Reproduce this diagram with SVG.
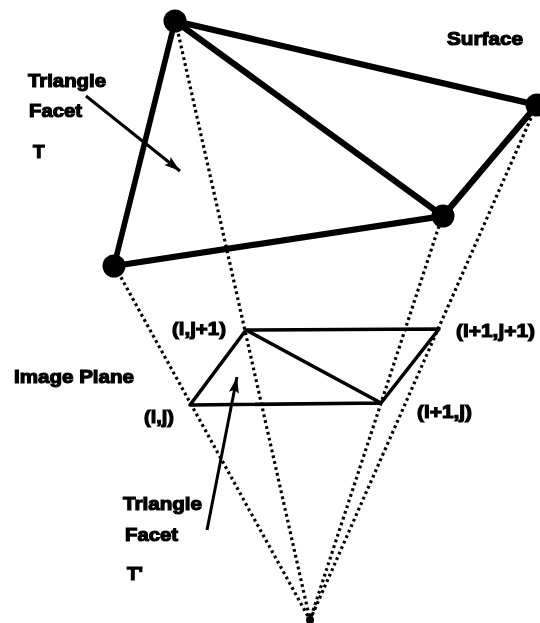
<svg xmlns="http://www.w3.org/2000/svg" width="540" height="623" viewBox="0 0 540 623">
<style>
.thick{stroke:#000;stroke-width:6.2;fill:none;stroke-linecap:round}
.left{stroke-width:5.6}
.mid{stroke:#000;stroke-width:3.6;fill:none;stroke-linecap:round;stroke-linejoin:round}
.dot{stroke:#000;stroke-width:3.2;fill:none;stroke-dasharray:2.8 3.2}
.arrow{stroke:#000;stroke-width:3;fill:none}
.v{fill:#000}
text{font-family:"Liberation Sans",Arial,sans-serif;font-weight:bold;font-size:19px;fill:#000;stroke:#000;stroke-width:1.2}
</style>
<defs>
<marker id="a" markerUnits="userSpaceOnUse" markerWidth="18" markerHeight="14" refX="16" refY="6" orient="auto"><path d="M0 1L16 6L0 11L3 6Z" fill="#000"/></marker>
<filter id="soft" x="-5%" y="-5%" width="110%" height="110%"><feGaussianBlur stdDeviation="0.5"/></filter>
</defs>
<rect width="540" height="623" fill="#fff"/>
<g filter="url(#soft)">
<g id="connectors">
<path class="dot" d="M177 28L310 620M118 272L310 620M439 226L310 620M531 118L310 620"/>
<path class="thick" d="M443 216L175 21L537 105L443 216L114 266"/>
<path class="thick left" d="M175 21L114 266"/>
<path class="mid" d="M246 330L439 329L381 403L190 405ZM246 330L381 403"/>
<path class="arrow" d="M86 96L180 171" marker-end="url(#a)"/>
<path class="arrow" d="M207 530L237 377" marker-end="url(#a)"/>
</g>
<g id="node-v1"><circle class="v" cx="175" cy="21" r="11.5"/></g>
<g id="node-v2"><circle class="v" cx="114" cy="266" r="11.5"/></g>
<g id="node-v3"><circle class="v" cx="443" cy="216" r="11.5"/></g>
<g id="node-v4"><circle class="v" cx="537" cy="105" r="11.5"/></g>
<g id="node-apex"><circle class="v" cx="310" cy="620" r="4"/></g>
<g id="labels">
<text x="447" y="45" textLength="76" lengthAdjust="spacingAndGlyphs">Surface</text>
<text x="28" y="87" textLength="78" lengthAdjust="spacingAndGlyphs">Triangle</text>
<text x="29" y="117" textLength="53" lengthAdjust="spacingAndGlyphs">Facet</text>
<text x="33" y="158">T</text>
<text x="14" y="383" textLength="120" lengthAdjust="spacingAndGlyphs">Image Plane</text>
<text x="172" y="335" textLength="54" lengthAdjust="spacingAndGlyphs">(i,j+1)</text>
<text x="456" y="337" textLength="79" lengthAdjust="spacingAndGlyphs">(i+1,j+1)</text>
<text x="144" y="423" textLength="30" lengthAdjust="spacingAndGlyphs">(i,j)</text>
<text x="417" y="418" textLength="55" lengthAdjust="spacingAndGlyphs">(i+1,j)</text>
<text x="123" y="510" textLength="79" lengthAdjust="spacingAndGlyphs">Triangle</text>
<text x="125" y="541" textLength="53" lengthAdjust="spacingAndGlyphs">Facet</text>
<text x="127" y="580">T'</text>
</g>
</g>
</svg>
